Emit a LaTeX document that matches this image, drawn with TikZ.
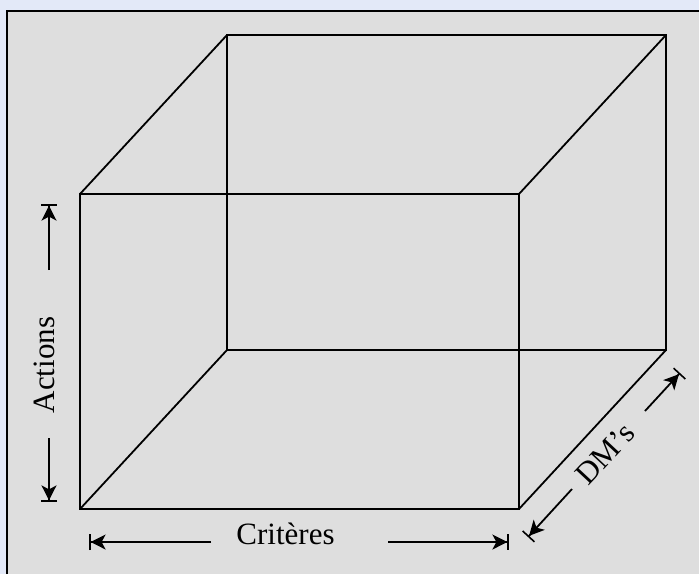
\documentclass[tikz,border=0pt]{standalone}
\usepackage{fontspec}
\setmainfont{Liberation Serif}
\usetikzlibrary{arrows.meta}
\definecolor{FrameBlue}{HTML}{E3E9F8}
\definecolor{PanelGray}{HTML}{DEDEDE}

\begin{document}
\begin{tikzpicture}[x=1pt,y=-1pt,
    edge/.style={line width=1.8pt},
    dimline/.style={line width=1.8pt,-{Stealth[length=15pt,width=15pt,inset=4pt]Bar[width=16pt,line width=1.6pt]}},
    axislabel/.style={font=\fontsize{31}{36}\selectfont,inner sep=0pt}
  ]
  \useasboundingbox (0,0) rectangle (699,574);
  \fill[FrameBlue] (0,0) rectangle (699,574);
  \fill[PanelGray] (7,11) rectangle (699,574);
  \draw[line width=2.2pt] (7,574) -- (7,11) -- (699,11);

  % box corners, front face and back face
  \coordinate (f-bl) at (80,509);
  \coordinate (f-br) at (519,509);
  \coordinate (f-tr) at (519,194);
  \coordinate (f-tl) at (80,194);
  \coordinate (b-bl) at (227,350);
  \coordinate (b-br) at (666,350);
  \coordinate (b-tr) at (666,35);
  \coordinate (b-tl) at (227,35);
  \draw[edge] (f-bl) rectangle (f-tr);
  \draw[edge] (b-bl) rectangle (b-tr);
  \foreach \c in {bl,br,tr,tl}
    \draw[edge] (f-\c) -- (b-\c);

  % Actions
  \node[axislabel,rotate=90] (actions) at (44,365) {Actions};
  \coordinate (act-up) at (49,270);
  \coordinate (act-top) at (49,204);
  \coordinate (act-down) at (49,438);
  \coordinate (act-bot) at (49,502);
  \draw[dimline] (act-up) -- (act-top);
  \draw[dimline] (act-down) -- (act-bot);

  % Criteres
  \node[axislabel,anchor=base] (criteres) at (285.5,544) {Critères};
  \coordinate (crit-lft) at (211,542);
  \coordinate (crit-left) at (89,542);
  \coordinate (crit-rgt) at (388,542);
  \coordinate (crit-right) at (509,542);
  \draw[dimline] (crit-lft) -- (crit-left);
  \draw[dimline] (crit-rgt) -- (crit-right);

  % DM's
  \node[axislabel,rotate=47] (dms) at (605,454) {DM's};
  \coordinate (dm-up) at (645,411);
  \coordinate (dm-top) at (680,373);
  \coordinate (dm-down) at (572,489);
  \coordinate (dm-bot) at (528,537);
  \draw[dimline] (dm-up) -- (dm-top);
  \draw[dimline] (dm-down) -- (dm-bot);
\end{tikzpicture}
\end{document}
